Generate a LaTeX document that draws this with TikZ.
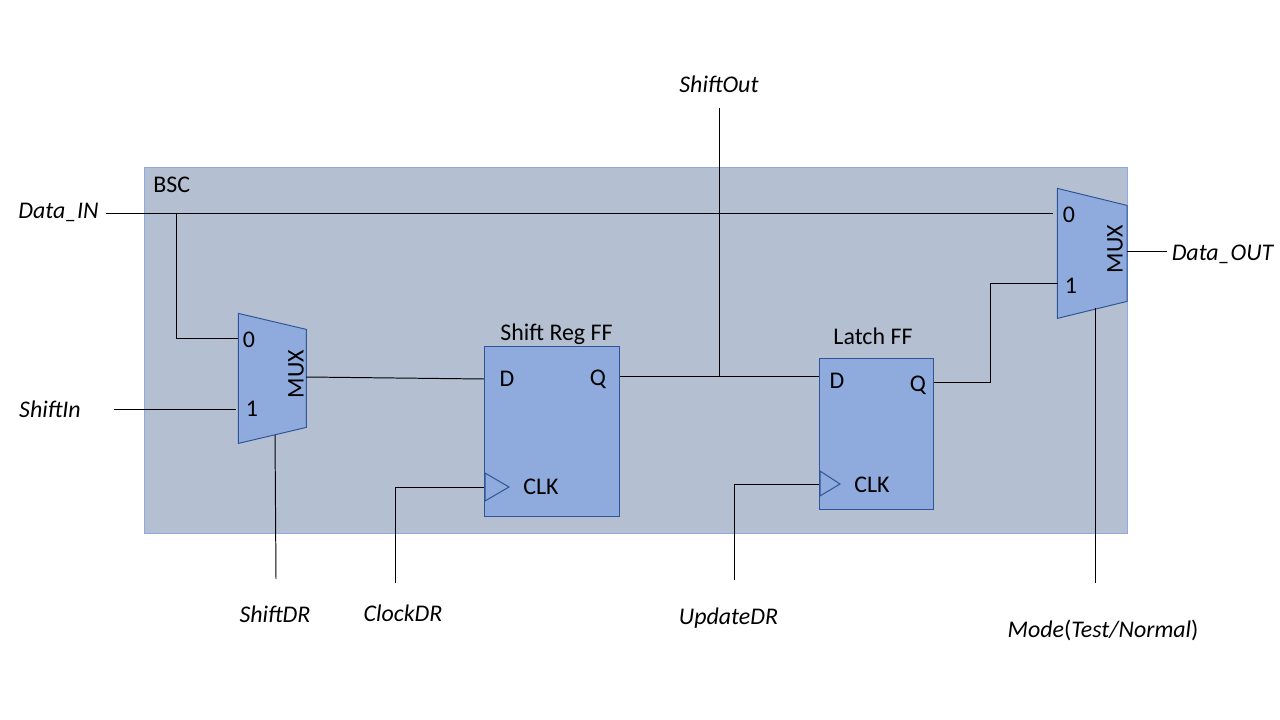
\documentclass[tikz,border=0pt]{standalone}
\usepackage{fontspec}
\setmainfont{Carlito}
\definecolor{regionfill}{HTML}{B4C0D2}
\definecolor{blockfill}{HTML}{8FAADC}
\definecolor{blockedge}{HTML}{2F5597}
\tikzset{
  lbl/.style={font=\fontsize{17}{20}\selectfont,inner sep=0pt,text=black},
  sig/.style={lbl,font=\fontsize{17}{20}\selectfont\itshape},
  wire/.style={draw=black,line width=0.7pt},
  ffblock/.style={draw=blockedge,fill=blockfill,line width=0.7pt,rectangle,inner sep=0pt},
  muxblock/.style={draw=blockedge,fill=blockfill,line width=0.7pt,line join=miter},
  clktri/.style={draw=blockedge,line width=0.7pt},
}
\begin{document}
\begin{tikzpicture}[x=0.025cm,y=-0.025cm]
  \useasboundingbox (0,0) rectangle (1280,720);
  % Region
  \node[rectangle,draw=blockfill,fill=regionfill,line width=0.7pt,inner sep=0pt,minimum width=24.56cm,minimum height=9.14cm] (bsc) at (636,350.7) {};
  \node[lbl,anchor=west] (bscname) at (153,185) {BSC};
  % Blocks
  \draw[muxblock] (238.4,313.4) -- (306.4,329.4) -- (306.4,427.4) -- (238.4,443.4) -- cycle;
  \draw[muxblock] (1057.4,188.4) -- (1127,205.4) -- (1127,301.4) -- (1057.4,318.4) -- cycle;
  \node[ffblock,minimum width=3.36cm,minimum height=4.25cm] (shiftff) at (551.8,431.6) {};
  \node[ffblock,minimum width=2.84cm,minimum height=3.78cm] (latchff) at (876.2,434.1) {};
  \draw[clktri] (485,473) -- (509,487) coordinate (clkatip) -- (485,501) -- cycle;
  \draw[clktri] (820,471) -- (840,484) coordinate (clkbtip) -- (820,496) -- cycle;
  % Block text
  \node[lbl] (muxazero) at (249,340) {0};
  \node[lbl] (muxaone) at (252,409) {1};
  \node[lbl,rotate=90] (muxaname) at (296,374) {MUX};
  \node[lbl] (muxbzero) at (1069,215) {0};
  \node[lbl] (muxbone) at (1071,286) {1};
  \node[lbl,rotate=90] (muxbname) at (1115,249) {MUX};
  \node[lbl] (shiftname) at (556.5,334) {Shift Reg FF};
  \node[lbl] (latchname) at (873,336) {Latch FF};
  \node[lbl] (shiftd) at (507,379) {D};
  \node[lbl] (shiftq) at (598,379) {Q};
  \node[lbl] (shiftclk) at (541,487) {CLK};
  \node[lbl] (latchd) at (837,381) {D};
  \node[lbl] (latchq) at (918,385) {Q};
  \node[lbl] (latchclk) at (872,485) {CLK};
  % Signal names
  \node[sig] (datain) at (58.5,212) {Data\_IN};
  \node[sig] (shiftin) at (50,409) {ShiftIn};
  \node[sig] (shiftdr) at (275,614) {ShiftDR};
  \node[sig] (clockdr) at (403,613) {ClockDR};
  \node[sig] (updatedr) at (728.5,618) {UpdateDR};
  \node[sig] (modesel) at (1103,630.5) {Mode{\upshape(}Test/Normal{\upshape)}};
  \node[sig] (shiftout) at (719,84) {ShiftOut};
  \node[sig] (dataout) at (1222.5,254) {Data\_OUT};
  % Free ends of the wires
  \coordinate (indata) at (106,213);
  \coordinate (inshift) at (114,409);
  \coordinate (drshift) at (276,579);
  \coordinate (drclock) at (395,583);
  \coordinate (drupdate) at (734,580);
  \coordinate (selmode) at (1095,583);
  \coordinate (outshift) at (719,108);
  \coordinate (outdata) at (1167,251);
  % Pins of the two MUX blocks
  \coordinate (muxapinz) at (238,338);
  \coordinate (muxapino) at (236,409);
  \coordinate (muxaout) at (306,377);
  \coordinate (muxasel) at (275,435);
  \coordinate (muxbpinz) at (1053,213);
  \coordinate (muxbpino) at (1058,283);
  \coordinate (muxbout) at (1127,251);
  \coordinate (muxbsel) at (1095,308);
  % Tap points
  \coordinate (tapin) at (176,213);
  \coordinate (tapq) at (719,376);
  \coordinate (bendq) at (990,382);
  % Wires
  \draw[wire] (indata) -- (muxbpinz);
  \draw[wire] (tapin) |- (muxapinz);
  \draw[wire] (inshift) -- (muxapino);
  \draw[wire] (muxaout) -- (shiftff.west |- 0,379);
  \draw[wire] (shiftff.east |- tapq) -- (latchff.west |- tapq);
  \draw[wire] (outshift) -- (tapq);
  \draw[wire] (latchff.east |- bendq) -- (bendq) |- (muxbpino);
  \draw[wire] (muxbout) -- (outdata);
  \draw[wire] (muxasel) -- (drshift);
  \draw[wire] (drclock) |- (shiftff.west |- clkatip);
  \draw[wire] (drupdate) |- (latchff.west |- clkbtip);
  \draw[wire] (muxbsel) -- (selmode);
\end{tikzpicture}
\end{document}
